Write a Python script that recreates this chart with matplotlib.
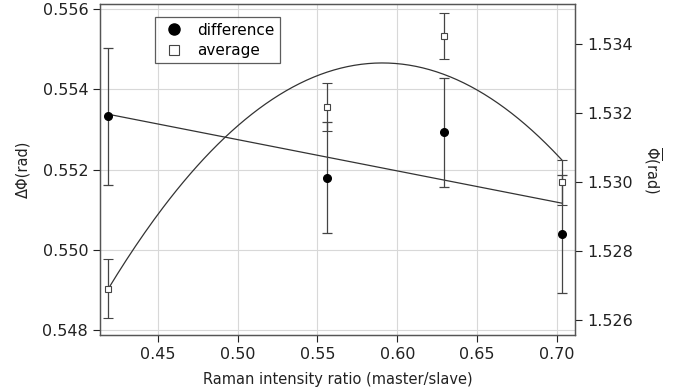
import numpy as np
import matplotlib.pyplot as plt
from matplotlib.lines import Line2D

ratio = [0.419, 0.556, 0.629, 0.703]
diff = [0.55333, 0.55180, 0.55293, 0.55040]
diff_err = [0.00170, 0.00138, 0.00135, 0.00148]
avg = [1.52690, 1.53217, 1.53423, 1.52999]
avg_err = [0.00085, 0.00070, 0.00067, 0.00065]

# fit curves
lin_slope, lin_icpt = -0.0078, 0.55665
quad_x0, quad_y0, quad_a = 0.5906, 1.53345, -0.2224

xticks = [0.45, 0.50, 0.55, 0.60, 0.65, 0.70]
lticks = [0.548, 0.550, 0.552, 0.554, 0.556]
rticks = [1.526, 1.528, 1.530, 1.532, 1.534]

plt.rcParams['font.family'] = 'DejaVu Sans'
fig = plt.figure(figsize=(6.85, 3.92), dpi=100)
ax = fig.add_axes([100/685, 1-335/392, 475/685, 331/392])
ax2 = ax.twinx()

fg = '#222222'
xs = np.linspace(ratio[0], ratio[-1], 200)
ax.plot(xs, lin_icpt + lin_slope*xs, color='#333333', lw=0.9)
ax.errorbar(ratio, diff, yerr=diff_err, fmt='o', color='black', ms=5.5,
            ecolor='#444444', elinewidth=0.9, capsize=3.5, capthick=0.9)
ax2.plot(xs, quad_y0 + quad_a*(xs - quad_x0)**2, color='#333333', lw=0.9)
ax2.errorbar(ratio, avg, yerr=avg_err, fmt='s', mfc='white', mec='#444444',
             mew=0.8, ms=5, ecolor='#444444', elinewidth=0.9, capsize=3.5,
             capthick=0.9)

ax.set_xlim(0.4138, 0.7113)
ax.set_ylim(0.54788, 0.55613)
ax2.set_ylim(1.52556, 1.53516)
ax.set_xticks(xticks)
ax.set_xticklabels([f'{t:.2f}' for t in xticks])
ax.set_yticks(lticks)
ax.set_yticklabels([f'{t:.3f}' for t in lticks])
ax2.set_yticks(rticks)
ax2.set_yticklabels([f'{t:.3f}' for t in rticks])
ax.grid(True, color='#d8d8d8', lw=0.8)
ax.set_axisbelow(True)

for a in (ax, ax2):
    a.tick_params(labelsize=11.5, colors=fg, length=5, width=0.8, direction='out')
    for s in a.spines.values():
        s.set_color('#555555')
        s.set_linewidth(0.9)

ax.set_xlabel('Raman intensity ratio (master/slave)', fontsize=10.5, color=fg, labelpad=7)
ax.set_ylabel('ΔΦ(rad)', fontsize=10.5, color=fg, labelpad=9)
ax2.set_ylabel(r'$\overline{\Phi}$(rad)', fontsize=10.5, color=fg, rotation=270, labelpad=22)

handles = [Line2D([], [], ls='none', marker='o', color='black', ms=8),
           Line2D([], [], ls='none', marker='s', mfc='white', mec='#444444', mew=0.8, ms=7)]
leg = ax2.legend(handles, ['difference', 'average'], loc='upper left',
                 bbox_to_anchor=(0.116, 0.96), fontsize=11, frameon=True,
                 fancybox=False, borderpad=0.35, handletextpad=0.6,
                 handlelength=1.8, labelspacing=0.35, borderaxespad=0)
leg.get_frame().set_edgecolor('#333333')
leg.get_frame().set_linewidth(0.9)

fig.savefig('out.png', dpi=100)
